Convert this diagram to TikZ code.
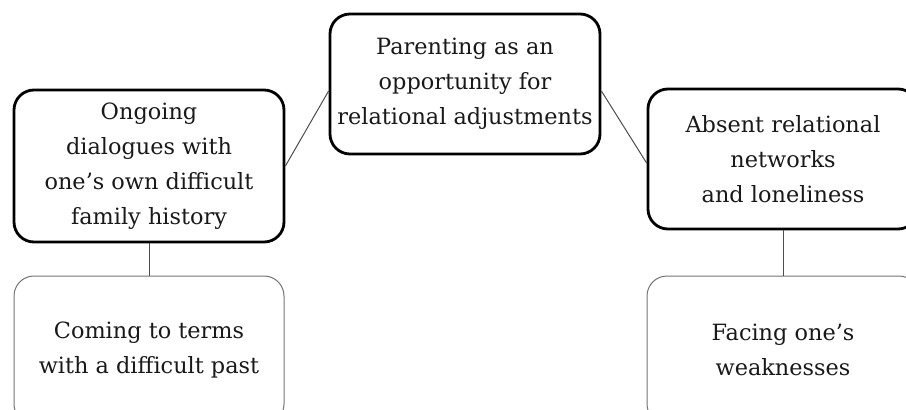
\documentclass[tikz,border=0pt]{standalone}
\usepackage{fontspec}
\setmainfont{DejaVu Serif}
\usetikzlibrary{positioning}

\begin{document}
\begin{tikzpicture}[x=0.5pt,y=0.5pt,
	theme/.style={draw,line width=1.4pt,rounded corners=10pt,align=center,
		minimum width=135pt,inner sep=0pt,text=black!90,
		font=\fontsize{11.2}{17.5}\selectfont},
	subtheme/.style={theme,draw=black!55,line width=0.5pt},
	link/.style={draw=black!70,line width=0.5pt}]
\useasboundingbox (0,0) rectangle (906,409);
\clip (0,0) rectangle (906,409);

\node[theme,minimum height=70pt] (parenting) at (465,325)
	{Parenting as an\\opportunity for\\relational adjustments};
\node[theme,minimum height=76pt] (dialogues) at (149,243)
	{Ongoing\\dialogues with\\one’s own difficult\\family history};
\node[theme,minimum height=70pt] (networks) at (783,250)
	{Absent relational\\networks\\and loneliness};

\node[subtheme,minimum height=74pt] (past) at (149,59)
	{Coming to terms\\with a difficult past};
\node[subtheme,minimum height=74pt,minimum width=136pt] (weak) at (783,59)
	{Facing one’s\\weaknesses};

\draw[link] (dialogues.east) -- ([yshift=-3.5pt]parenting.west);
\draw[link] ([yshift=-3.5pt]parenting.east) -- ([yshift=-2pt]networks.west);
\draw[link] (dialogues.south) -- (past.north);
\draw[link] (networks.south) -- (weak.north);
\end{tikzpicture}
\end{document}
